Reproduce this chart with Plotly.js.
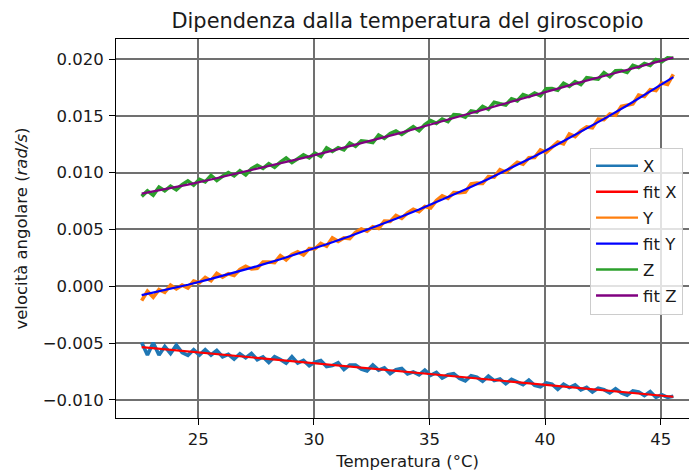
<!DOCTYPE html>
<html>
<head>
<meta charset="utf-8">
<script src="https://cdn.plot.ly/plotly-3.0.1.min.js"></script>
<style>
html,body{margin:0;padding:0;background:#fff;overflow:hidden;}
#chart{width:700px;height:472px;}
</style>
</head>
<body>
<div id="chart"></div>
<script>
// Temperature samples (°C)
const temps = [
22.55,22.8,23.05,23.3,23.55,23.8,24.05,24.3,24.55,24.8,
25.05,25.3,25.55,25.8,26.05,26.3,26.55,26.8,27.05,27.3,
27.55,27.8,28.05,28.3,28.55,28.8,29.05,29.3,29.55,29.8,
30.05,30.3,30.55,30.8,31.05,31.3,31.55,31.8,32.05,32.3,
32.55,32.8,33.05,33.3,33.55,33.8,34.05,34.3,34.55,34.8,
35.05,35.3,35.55,35.8,36.05,36.3,36.55,36.8,37.05,37.3,
37.55,37.8,38.05,38.3,38.55,38.8,39.05,39.3,39.55,39.8,
40.05,40.3,40.55,40.8,41.05,41.3,41.55,41.8,42.05,42.3,
42.55,42.8,43.05,43.3,43.55,43.8,44.05,44.3,44.55,44.8,
45.05,45.3,45.55];

const velX = [
-0.00495,-0.00604,-0.00496,-0.00605,-0.00530,-0.00591,-0.00518,-0.00584,-0.00608,-0.00559,
-0.00606,-0.00558,-0.00605,-0.00565,-0.00620,-0.00598,-0.00640,-0.00594,-0.00630,-0.00590,
-0.00646,-0.00622,-0.00671,-0.00620,-0.00644,-0.00676,-0.00620,-0.00676,-0.00652,-0.00699,
-0.00667,-0.00653,-0.00706,-0.00698,-0.00672,-0.00733,-0.00692,-0.00692,-0.00728,-0.00744,
-0.00693,-0.00738,-0.00718,-0.00768,-0.00733,-0.00723,-0.00772,-0.00753,-0.00779,-0.00738,
-0.00783,-0.00758,-0.00808,-0.00779,-0.00769,-0.00810,-0.00833,-0.00787,-0.00800,-0.00836,
-0.00791,-0.00830,-0.00815,-0.00858,-0.00818,-0.00840,-0.00866,-0.00826,-0.00871,-0.00884,
-0.00851,-0.00862,-0.00906,-0.00862,-0.00891,-0.00867,-0.00912,-0.00889,-0.00931,-0.00896,
-0.00909,-0.00938,-0.00902,-0.00939,-0.00958,-0.00920,-0.00930,-0.00962,-0.00927,-0.00978,
-0.00954,-0.00978,-0.00967];

const velY = [
-0.00126,-0.00044,-0.00097,-0.00029,-0.00053,0.00010,-0.00023,0.00010,-0.00015,0.00046,
0.00031,0.00078,0.00049,0.00114,0.00081,0.00111,0.00095,0.00148,0.00177,0.00152,
0.00158,0.00214,0.00213,0.00208,0.00270,0.00232,0.00280,0.00304,0.00275,0.00332,
0.00330,0.00377,0.00352,0.00425,0.00395,0.00426,0.00420,0.00475,0.00505,0.00484,
0.00524,0.00509,0.00573,0.00571,0.00624,0.00598,0.00646,0.00677,0.00657,0.00702,
0.00690,0.00754,0.00796,0.00773,0.00824,0.00823,0.00830,0.00901,0.00908,0.00905,
0.00966,0.00961,0.01025,0.01004,0.01049,0.01092,0.01074,0.01131,0.01134,0.01199,
0.01178,0.01228,0.01269,0.01253,0.01339,0.01318,0.01369,0.01403,0.01395,0.01471,
0.01467,0.01516,0.01505,0.01583,0.01594,0.01605,0.01682,0.01671,0.01731,0.01723,
0.01789,0.01776,0.01864];

const velZ = [
0.00791,0.00840,0.00802,0.00872,0.00840,0.00881,0.00850,0.00894,0.00927,0.00890,
0.00941,0.00919,0.00975,0.00932,0.00968,0.01001,0.00972,0.01016,0.00981,0.01035,
0.01064,0.01038,0.01078,0.01048,0.01093,0.01128,0.01088,0.01123,0.01156,0.01131,
0.01171,0.01143,0.01218,0.01187,0.01220,0.01200,0.01261,0.01232,0.01280,0.01274,
0.01264,0.01330,0.01302,0.01343,0.01366,0.01336,0.01374,0.01404,0.01369,0.01422,
0.01458,0.01433,0.01471,0.01449,0.01511,0.01506,0.01489,0.01542,0.01533,0.01582,
0.01557,0.01619,0.01606,0.01595,0.01650,0.01632,0.01686,0.01669,0.01700,0.01677,
0.01737,0.01739,0.01726,0.01787,0.01759,0.01800,0.01775,0.01835,0.01828,0.01823,
0.01880,0.01845,0.01896,0.01898,0.01882,0.01944,0.01925,0.01960,0.01944,0.01995,
0.01975,0.02011,0.02007];

// Fit curves
const fitT = [22.55,23.55,24.55,25.55,26.55,27.55,28.55,29.55,30.55,31.55,32.55,33.55,
34.55,35.55,36.55,37.55,38.55,39.55,40.55,41.55,42.55,43.55,44.55,45.55];
const fitX = [-0.00535,-0.00554,-0.00573,-0.00592,-0.00611,-0.00630,-0.00649,-0.00668,-0.00687,-0.00706,-0.00725,-0.00744,
-0.00763,-0.00782,-0.00801,-0.00820,-0.00839,-0.00858,-0.00877,-0.00896,-0.00915,-0.00934,-0.00953,-0.00972];
const fitY = [-0.00078,-0.00034,0.00014,0.00065,0.00119,0.00177,0.00238,0.00302,0.00370,0.00441,0.00516,0.00594,
0.00676,0.00762,0.00852,0.00945,0.01043,0.01144,0.01250,0.01359,0.01473,0.01591,0.01713,0.01840];
const fitZ = [0.00815,0.00853,0.00895,0.00940,0.00986,0.01034,0.01082,0.01130,0.01180,0.01232,0.01285,0.01339,
0.01395,0.01452,0.01511,0.01571,0.01629,0.01686,0.01742,0.01796,0.01850,0.01904,0.01958,0.02012];

const seriesNames = ['X', 'fit X', 'Y', 'fit Y', 'Z', 'fit Z'];
const seriesColors = ['#1f77b4', '#ff0000', '#ff7f0e', '#0000ff', '#2ca02c', '#800080'];
const xTicks = [25, 30, 35, 40, 45];
const yTicks = [-0.010, -0.005, 0.000, 0.005, 0.010, 0.015, 0.020];

const FONT = 'DejaVu Sans';
const TXT = '#1a1a1a';

const xs = [temps, fitT, temps, fitT, temps, fitT];
const ys = [velX, fitX, velY, fitY, velZ, fitZ];

const data = [];
// plotted curves (data lines drawn a bit wider to mimic the dense noisy band)
seriesNames.forEach(function (nm, k) {
  data.push({x: xs[k], y: ys[k], name: nm, type: 'scatter', mode: 'lines', showlegend: false,
             line: {color: seriesColors[k], width: (k % 2 === 0) ? 3.6 : 2.2}, hoverinfo: 'skip'});
});
// legend entries (same colours, regular line width, no plotted points)
seriesNames.forEach(function (nm, k) {
  data.push({x: [null], y: [null], name: nm, legendgroup: nm, type: 'scatter', mode: 'lines',
             line: {color: seriesColors[k], width: 2.4}, hoverinfo: 'skip'});
});

const axisCommon = {
  showline: true, linecolor: '#000', linewidth: 1, mirror: true,
  ticks: 'outside', ticklen: 6, tickwidth: 1, tickcolor: '#000',
  showgrid: true, gridcolor: '#707070', gridwidth: 2,
  zeroline: false,
  tickfont: {family: FONT, size: 16.5, color: TXT}
};

const layout = {
  width: 700, height: 472,
  margin: {l: 116, r: 1, t: 39, b: 54, pad: 0},
  paper_bgcolor: '#fff', plot_bgcolor: '#fff',
  font: {family: FONT, color: TXT, size: 16.5},
  title: {text: 'Dipendenza dalla temperatura del giroscopio',
          font: {family: FONT, size: 20.9, color: TXT},
          xref: 'paper', x: 0.5, xanchor: 'center',
          yref: 'container', y: 1 - 21/472, yanchor: 'middle'},
  xaxis: Object.assign({}, axisCommon, {
    range: [21.44, 46.66], tickvals: xTicks, ticktext: xTicks.map(String),
    title: {text: 'Temperatura (°C)', font: {family: FONT, size: 16.5, color: TXT}, standoff: 7}
  }),
  yaxis: Object.assign({}, axisCommon, {
    range: [-0.01159, 0.02176], tickvals: yTicks, tickformat: '.3f', ticklabelstandoff: 2,
    title: {text: 'velocità angolare (<i>rad/s</i>)', font: {family: FONT, size: 16.5, color: TXT}, standoff: 10}
  }),
  showlegend: true,
  legend: {x: 0.9726, xanchor: 'right', y: 0.4934, yanchor: 'middle',
           traceorder: 'grouped', tracegroupgap: 1.5,
           bgcolor: 'rgba(255,255,255,0.8)', bordercolor: '#cccccc', borderwidth: 1,
           font: {family: FONT, size: 16.5, color: TXT}, itemwidth: 42}
};

Plotly.newPlot('chart', data, layout, {displayModeBar: false, staticPlot: true});
</script>
</body>
</html>
